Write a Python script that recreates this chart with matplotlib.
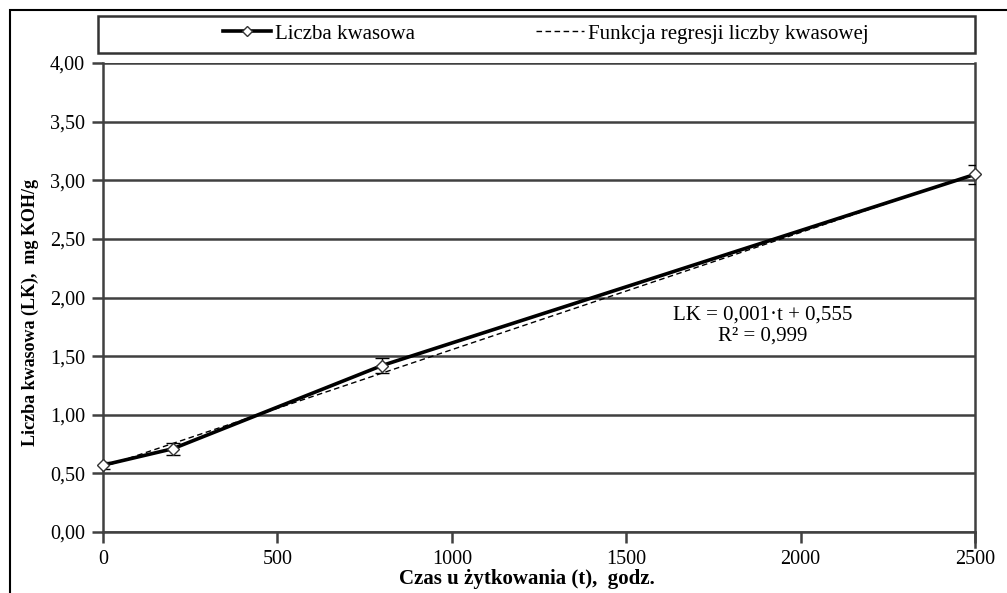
import matplotlib
matplotlib.use("Agg")
import matplotlib.pyplot as plt
from matplotlib.patches import Rectangle
from matplotlib.lines import Line2D
import numpy as np

# Data
time_h = [0, 200, 800, 2500]
acid_number = [0.57, 0.71, 1.42, 3.05]
acid_err = [0.03, 0.05, 0.06, 0.08]
reg_slope = 0.001
reg_intercept = 0.555
reg_range = [0, 2500]
y_ticks = [0, 0.5, 1.0, 1.5, 2.0, 2.5, 3.0, 3.5, 4.0]
x_ticks = [0, 500, 1000, 1500, 2000, 2500]
series_labels = ["Liczba kwasowa", "Funkcja regresji liczby kwasowej"]
eq_text = "LK = 0,001·t + 0,555\nR² = 0,999"

plt.rcParams['font.family'] = ['Liberation Serif', 'DejaVu Serif']

W, H = 1007, 593
fig = plt.figure(figsize=(W / 100, H / 100), dpi=100)
ax = fig.add_axes([103 / W, 1 - 532 / H, (975 - 103) / W, (532 - 63) / H])

axis_col = '#404040'

# outer frame
fig.patches.append(Rectangle((10 / W, -0.1), 1.2, 1 - 10 / H + 0.1, transform=fig.transFigure,
                             fill=False, edgecolor='black', linewidth=1.5, zorder=0))

for y in y_ticks:
    ax.axhline(y, color=axis_col, linewidth=1.8, zorder=1)

# regression line
xr = np.array(reg_range, dtype=float)
ax.plot(xr, reg_slope * xr + reg_intercept, color='black', linestyle=(0, (4, 2.5)),
        linewidth=1.0, zorder=3)

# data
ax.errorbar(time_h, acid_number, yerr=acid_err, fmt='none', ecolor='black',
            elinewidth=1.0, capsize=5, capthick=1.0, zorder=3)
ax.plot(time_h, acid_number, color='black', linewidth=2.6, marker='D', markersize=6,
        markerfacecolor='white', markeredgecolor='#333333', markeredgewidth=1.0, zorder=4,
        clip_on=False)

ax.set_xlim(0, 2500)
ax.set_ylim(0, 4)
ax.set_xticks(x_ticks)
ax.set_yticks(y_ticks)
ax.set_xticklabels([str(v) for v in x_ticks])
ax.set_yticklabels([f"{v:.2f}".replace('.', ',') for v in y_ticks])
ax.tick_params(direction='out', length=8, width=1.8, color=axis_col, labelsize=14.5,
               labelcolor='black', pad=5)
ax.spines['top'].set_visible(False)
for s in ['left', 'right', 'bottom']:
    ax.spines[s].set_color(axis_col)
    ax.spines[s].set_linewidth(1.8)
# right spine tick extension at 2500
ax.plot([2500, 2500], [0, -0.13], color=axis_col, linewidth=1.8, clip_on=False)

ax.text(1890, 1.76, eq_text, ha='center', va='center', fontsize=15, linespacing=1.2)

# legend box
fig.patches.append(Rectangle((98 / W, 1 - 53 / H), (975 - 98) / W, 37 / H,
                             transform=fig.transFigure, fill=False, edgecolor='#333333',
                             linewidth=1.8))
h1 = Line2D([], [], color='black', linewidth=2.6, marker='D', markersize=5,
            markerfacecolor='white', markeredgecolor='#333333')
h2 = Line2D([], [], color='black', linestyle=(0, (4, 2.5)), linewidth=1.0)
fig.legend([h1, h2], series_labels, loc='center', ncol=2,
           bbox_to_anchor=(546 / W, 1 - 34 / H), frameon=False, fontsize=15,
           columnspacing=5.8, handlelength=2.3, handletextpad=0.2)

fig.text(30 / W, 1 - 313 / H, "Liczba kwasowa (LK),  mg KOH/g", rotation=90,
         ha='center', va='center', fontsize=13, fontweight='bold')
fig.text(527 / W, 1 - 569 / H, "Czas u żytkowania (t),  godz.", ha='center', va='top',
         fontsize=15, fontweight='bold')

fig.savefig("out.png", dpi=100)
